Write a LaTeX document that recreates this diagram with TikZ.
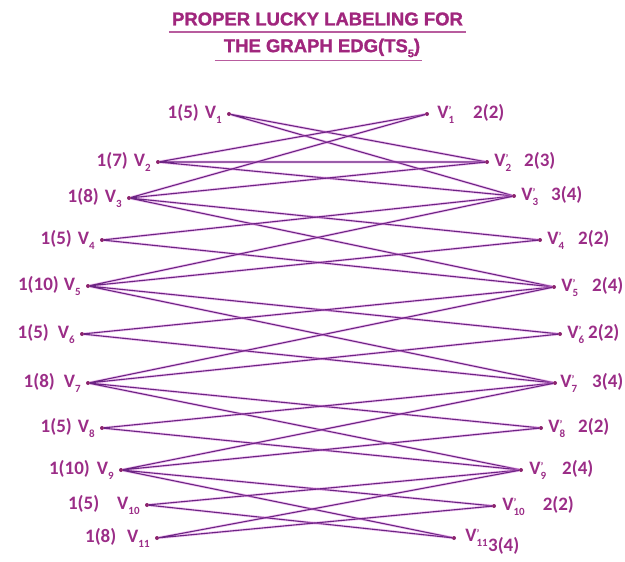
\documentclass[tikz,border=0pt]{standalone}
\usepackage{fontspec}
\setmainfont{Carlito}
\newfontfamily\titlefont{Liberation Sans Bold}[FakeBold=1.4]
\usetikzlibrary{positioning}

\definecolor{edgecol}{RGB}{108,36,132}
\definecolor{glowcol}{RGB}{225,130,225}
\definecolor{labelcol}{RGB}{155,45,135}
\definecolor{titlecol}{RGB}{160,38,125}
\definecolor{dotcol}{RGB}{140,35,110}

% lowered index and primed vertex names
\newcommand{\lsub}[1]{\raisebox{-5pt}{\fontsize{11}{11}\selectfont #1}}
\newcommand{\vl}[1]{V\lsub{#1}}
\newcommand{\vd}[1]{V\rlap{\raisebox{4pt}{\fontsize{11}{11}\selectfont '}}\lsub{#1}}

\tikzset{
  dot/.style={circle, fill=dotcol, inner sep=0pt, minimum size=4pt},
  lbl/.style={text=labelcol, font=\fontsize{19}{19}\selectfont\bfseries, inner sep=0pt},
  title/.style={text=titlecol, font=\titlefont\fontsize{18.5}{18.5}\selectfont, inner sep=0pt},
  uline/.style={titlecol!75, line width=1.6pt},
  edge/.style={edgecol, line width=1.1pt, preaction={draw=glowcol, line width=2.6pt, opacity=0.45}}
}

\begin{document}
\begin{tikzpicture}[x=1pt, y=-1pt]
    \useasboundingbox (0,0) rectangle (625,562);

    % title
    \node[title] (t1) at (317.5,19) {PROPER LUCKY LABELING FOR};
    \node[title] (t2) at (322,48) {THE GRAPH EDG(TS\lsub{5})};
    \draw[uline] ([xshift=-3pt, yshift=-6pt]t1.south west) -- ([xshift=3pt, yshift=-6pt]t1.south east);
    \draw[uline] ([xshift=-9pt, yshift=-3pt]t2.south west) -- ([xshift=2pt, yshift=-3pt]t2.south east);

    % left part
    \node[dot] (v1) at (229,114) {};
    \node[dot] (v2) at (158,162) {};
    \node[dot] (v3) at (129,198) {};
    \node[dot] (v4) at (102,240) {};
    \node[dot] (v5) at (88,286) {};
    \node[dot] (v6) at (82,334) {};
    \node[dot] (v7) at (88,383) {};
    \node[dot] (v8) at (102,428) {};
    \node[dot] (v9) at (121,470) {};
    \node[dot] (v10) at (147,505) {};
    \node[dot] (v11) at (157,538) {};

    % right part
    \node[dot] (w1) at (427,114) {};
    \node[dot] (w2) at (487,162) {};
    \node[dot] (w3) at (514,196) {};
    \node[dot] (w4) at (540,240) {};
    \node[dot] (w5) at (554,287) {};
    \node[dot] (w6) at (560,334) {};
    \node[dot] (w7) at (555,383) {};
    \node[dot] (w8) at (541,428) {};
    \node[dot] (w9) at (521,470) {};
    \node[dot] (w10) at (494,506) {};
    \node[dot] (w11) at (454,538) {};

    % labels
    \node[lbl, left=5pt of v1] (a1) {1(5)\hspace{6pt}\vl{1}};
    \node[lbl, left=5pt of v2] (a2) {1(7)\hspace{6pt}\vl{2}};
    \node[lbl, left=5pt of v3] (a3) {1(8)\hspace{6pt}\vl{3}};
    \node[lbl, left=5pt of v4] (a4) {1(5)\hspace{6pt}\vl{4}};
    \node[lbl, left=5pt of v5] (a5) {1(10)\hspace{5pt}\vl{5}};
    \node[lbl, left=5pt of v6] (a6) {1(5)\hspace{9pt}\vl{6}};
    \node[lbl, left=5pt of v7] (a7) {1(8)\hspace{9pt}\vl{7}};
    \node[lbl, left=5pt of v8] (a8) {1(5)\hspace{6pt}\vl{8}};
    \node[lbl, left=5pt of v9] (a9) {1(10)\hspace{7pt}\vl{9}};
    \node[lbl, left=5pt of v10] (a10) {1(5)\hspace{18pt}\vl{10}};
    \node[lbl, left=5pt of v11] (a11) {1(8)\hspace{11pt}\vl{11}};

    \node[lbl, right=8pt of w1] (b1) {\vd{1}\hspace{19pt}2(2)};
    \node[lbl, right=5pt of w2] (b2) {\vd{2}\hspace{13pt}2(3)};
    \node[lbl, right=5pt of w3] (b3) {\vd{3}\hspace{13pt}3(4)};
    \node[lbl, right=5pt of w4] (b4) {\vd{4}\hspace{14pt}2(2)};
    \node[lbl, right=5pt of w5] (b5) {\vd{5}\hspace{14pt}2(4)};
    \node[lbl, right=5pt of w6] (b6) {\vd{6}\hspace{4pt}2(2)};
    \node[lbl, right=3pt of w7] (b7) {\vd{7}\hspace{15pt}3(4)};
    \node[lbl, right=5pt of w8] (b8) {\vd{8}\hspace{13pt}2(2)};
    \node[lbl, right=6pt of w9] (b9) {\vd{9}\hspace{16pt}2(4)};
    \node[lbl, right=6pt of w10] (b10) {\vd{10}\hspace{18pt}2(2)};
    \node[lbl, right=9pt of w11] (b11) {\vd{11}};
    \node[lbl, right=0pt of b11, yshift=-8pt] (c11) {3(4)};

    % edges
    \draw[edge] (w2) -- (v1) -- (w3);
    \draw[edge] (w1) -- (v2) -- (w2) (v2) -- (w3);
    \draw[edge] (w1) -- (v3) -- (w2) (w4) -- (v3) -- (w5);
    \draw[edge] (w3) -- (v4) -- (w5);
    \draw[edge] (w3) -- (v5) -- (w4) (w6) -- (v5) -- (w7);
    \draw[edge] (w5) -- (v6) -- (w7);
    \draw[edge] (w5) -- (v7) -- (w6) (w8) -- (v7) -- (w9);
    \draw[edge] (w7) -- (v8) -- (w9);
    \draw[edge] (w7) -- (v9) -- (w8) (w10) -- (v9) -- (w11);
    \draw[edge] (w9) -- (v10) -- (w11);
    \draw[edge] (w9) -- (v11) -- (w10);
\end{tikzpicture}
\end{document}
